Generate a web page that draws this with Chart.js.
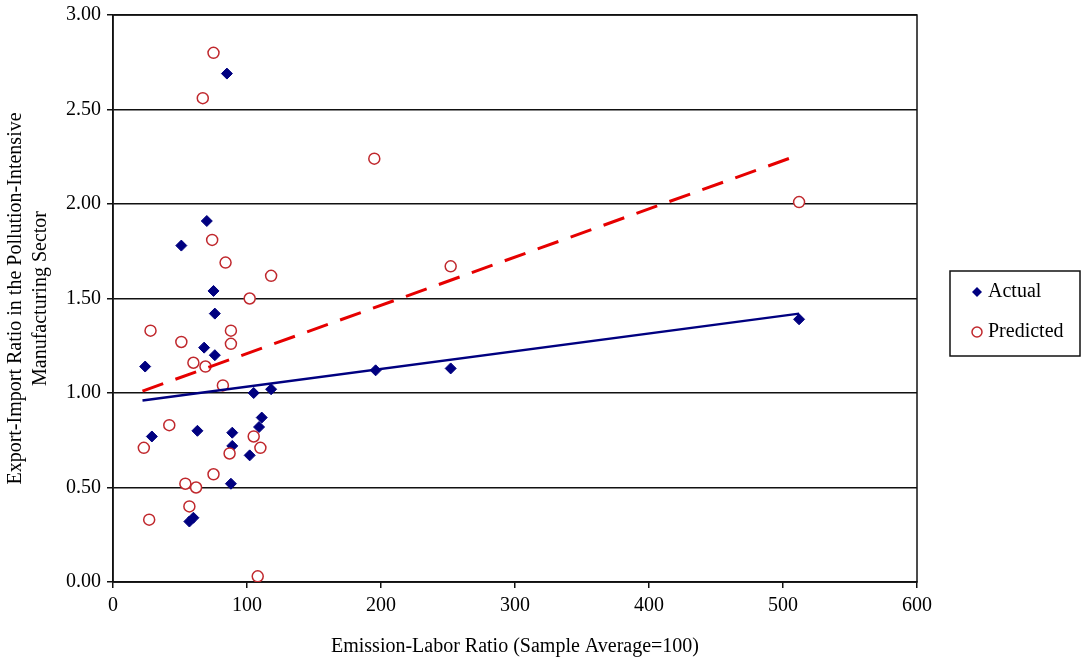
<!DOCTYPE html>
<html>
<head>
<meta charset="utf-8">
<script src="https://cdn.jsdelivr.net/npm/chart.js@4.4.1/dist/chart.umd.min.js"></script>
<style>
  html, body { margin: 0; padding: 0; background: #fff; }
  #wrap { width: 1083px; height: 662px; position: relative; }
</style>
</head>
<body>
<div id="wrap"><canvas id="chart"></canvas></div>
<script>
// values
let actualX = [85, 70, 51, 75, 76, 68, 76, 24, 105, 118, 111, 109, 29, 63, 89, 89, 102, 88, 60, 57, 196, 252, 512];
let actualY = [2.69, 1.91, 1.78, 1.54, 1.42, 1.24, 1.20, 1.14, 1.00, 1.02, 0.87, 0.82, 0.77, 0.80, 0.79, 0.72, 0.67, 0.52, 0.34, 0.32, 1.12, 1.13, 1.39];

let predictedX = [75, 67, 74, 84, 118, 102, 28, 88, 51, 88, 60, 69, 82, 42, 105, 23, 87, 110, 75, 54, 62, 57, 27, 108, 195, 252, 512];
let predictedY = [2.80, 2.56, 1.81, 1.69, 1.62, 1.50, 1.33, 1.33, 1.27, 1.26, 1.16, 1.14, 1.04, 0.83, 0.77, 0.71, 0.68, 0.71, 0.57, 0.52, 0.50, 0.40, 0.33, 0.03, 2.24, 1.67, 2.01];

// trend line end points
let trendX = [22, 512];
let actualTrendY = [0.96, 1.42];
let predictedTrendY = [1.01, 2.26];

let seriesLabels = ["Actual", "Predicted"];

let navy = "#000080";
let red = "#e60000";
let circleRed = "#c0282d";

function toPoints(xs, ys) {
  return xs.map((x, i) => ({ x: x, y: ys[i] }));
}

// frame round the plot area plus the boxed legend on the right
let framePlugin = {
  id: "frame",
  beforeDatasetsDraw(chart) {
    let { ctx, chartArea: a } = chart;
    ctx.save();
    ctx.strokeStyle = "#111";
    ctx.lineWidth = 1.5;
    ctx.strokeRect(a.left, a.top, a.right - a.left, a.bottom - a.top);
    ctx.restore();
  },
  afterDraw(chart) {
    let ctx = chart.ctx;
    ctx.save();
    ctx.strokeStyle = "#111";
    ctx.lineWidth = 1.5;
    ctx.strokeRect(950, 271, 130, 85);

    // diamond
    let dx = 977, dy = 292;
    ctx.fillStyle = navy;
    ctx.beginPath();
    ctx.moveTo(dx, dy - 5);
    ctx.lineTo(dx + 5, dy);
    ctx.lineTo(dx, dy + 5);
    ctx.lineTo(dx - 5, dy);
    ctx.closePath();
    ctx.fill();

    // circle
    ctx.strokeStyle = circleRed;
    ctx.lineWidth = 1.5;
    ctx.fillStyle = "#fff";
    ctx.beginPath();
    ctx.arc(977, 332, 5, 0, Math.PI * 2);
    ctx.fill();
    ctx.stroke();

    ctx.fillStyle = "#000";
    ctx.font = '20px "Liberation Serif", "Times New Roman", serif';
    ctx.textBaseline = "middle";
    ctx.textAlign = "left";
    ctx.fillText(chart.data.datasets[0].label, 988, dy);
    ctx.fillText(chart.data.datasets[1].label, 988, 332);
    ctx.restore();
  },
};

Chart.defaults.font.family = '"Liberation Serif", "Times New Roman", serif';
Chart.defaults.font.size = 20;
Chart.defaults.color = "#000";

new Chart(document.getElementById("chart"), {
  type: "scatter",
  data: {
    datasets: [
      {
        label: seriesLabels[0],
        data: toPoints(actualX, actualY),
        pointStyle: "rectRot",
        pointRadius: 5.5,
        backgroundColor: navy,
        borderColor: navy,
        borderWidth: 1,
        order: 2,
      },
      {
        label: seriesLabels[1],
        data: toPoints(predictedX, predictedY),
        pointStyle: "circle",
        pointRadius: 5.5,
        backgroundColor: "#fff",
        borderColor: circleRed,
        borderWidth: 1.5,
        order: 1,
      },
      {
        label: "Actual trend",
        type: "line",
        data: toPoints(trendX, actualTrendY),
        showLine: true,
        borderColor: navy,
        borderWidth: 2.5,
        pointRadius: 0,
        order: 0,
      },
      {
        label: "Predicted trend",
        type: "line",
        data: toPoints(trendX, predictedTrendY),
        showLine: true,
        borderColor: red,
        borderWidth: 3,
        borderDash: [22, 13],
        pointRadius: 0,
        order: 0,
      },
    ],
  },
  options: {
    responsive: true,
    maintainAspectRatio: false,
    animation: false,
    layout: { padding: { left: 0, right: 166, top: 15, bottom: 0 } },
    plugins: {
      legend: { display: false },
      tooltip: { enabled: false },
    },
    scales: {
      x: {
        type: "linear",
        min: 0,
        max: 600,
        ticks: { stepSize: 100, padding: 6 },
        grid: { drawOnChartArea: false, drawTicks: true, tickLength: 6, color: "#111", lineWidth: 1.5 },
        border: { color: "#111", width: 1.5 },
        title: {
          display: true,
          text: "Emission-Labor Ratio (Sample Average=100)",
          padding: { top: 4, bottom: 3 },
        },
        afterFit: (scale) => { scale.height = 80; },
      },
      y: {
        type: "linear",
        min: 0,
        max: 3,
        ticks: {
          stepSize: 0.5,
          padding: 6,
          callback: (v) => v.toFixed(2),
        },
        grid: { drawOnChartArea: true, drawTicks: true, tickLength: 6, color: "#111", lineWidth: 1.5 },
        border: { color: "#111", width: 1.5 },
        title: {
          display: true,
          text: ["Export-Import Ratio in the Pollution-Intensive", "Manufacturing Sector"],
          font: { lineHeight: 1.25 },
          padding: { top: 3, bottom: 2 },
        },
        afterFit: (scale) => {
          scale.width = 113;
          scale.paddingTop = 0;
        },
      },
    },
  },
  plugins: [framePlugin],
});
</script>
</body>
</html>
